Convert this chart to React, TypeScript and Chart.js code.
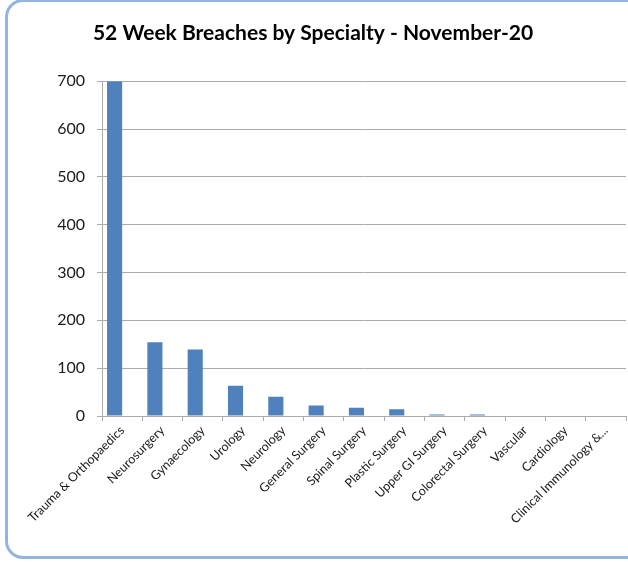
import React, { useEffect, useRef } from "react";
import { Chart, registerables } from "chart.js";

Chart.register(...registerables);

const chartTitle = "52 Week Breaches by Specialty - November-20";

const specialties = [
  "Trauma & Orthopaedics",
  "Neurosurgery",
  "Gynaecology",
  "Urology",
  "Neurology",
  "General Surgery",
  "Spinal Surgery",
  "Plastic Surgery",
  "Upper GI Surgery",
  "Colorectal Surgery",
  "Vascular",
  "Cardiology",
  "Clinical Immunology &...",
];

// Patients waiting over 52 weeks, per specialty
const breaches = [700, 154, 139, 63, 40, 22, 17, 14, 3, 3, 1, 1, 1];

// Empty companion series (keeps the clustered bar layout)
const companion = [null, null, null, null, null, null, null, null, null, null, null, null, null];

const yMin = 0;
const yMax = 700;
const yStep = 100;

const FONT = "Lato, 'Open Sans', 'DejaVu Sans', sans-serif";
const GRID = "#ABABAB";
const TEXT = "#1A1A1A";

export default function App() {
  const canvasRef = useRef<HTMLCanvasElement | null>(null);

  useEffect(() => {
    if (!canvasRef.current) return;
    const chart = new Chart(canvasRef.current, {
      type: "bar",
      data: {
        labels: specialties,
        datasets: [
          {
            label: "52 Week Breaches",
            data: breaches,
            backgroundColor: "#4F81BD",
            borderWidth: 0,
            categoryPercentage: 0.75,
            barPercentage: 1,
          },
          {
            label: "",
            data: companion,
            backgroundColor: "#C0504D",
            borderWidth: 0,
            categoryPercentage: 0.75,
            barPercentage: 1,
          },
        ],
      },
      options: {
        responsive: false,
        animation: false,
        devicePixelRatio: 1,
        layout: { padding: { left: 0, right: 2, top: 0, bottom: 0 } },
        plugins: {
          legend: { display: false },
          tooltip: { enabled: false },
          title: {
            display: true,
            text: chartTitle,
            color: "#000000",
            font: { family: FONT, size: 21, weight: "bold", lineHeight: 1.2 },
            padding: { top: 21, bottom: 35 },
          },
        },
        scales: {
          x: {
            grid: {
              display: true,
              drawOnChartArea: false,
              drawTicks: true,
              tickLength: 5,
              color: GRID,
              offset: true,
            },
            border: { color: GRID, width: 1 },
            ticks: {
              autoSkip: false,
              minRotation: 45,
              maxRotation: 45,
              padding: 2,
              color: TEXT,
              font: { family: FONT, size: 12.5 },
            },
            afterFit: (scale: any) => {
              scale.height = 146;
            },
          },
          y: {
            min: yMin,
            max: yMax,
            grid: { color: GRID, tickLength: 5, lineWidth: 1 },
            border: { color: GRID, width: 1 },
            ticks: {
              stepSize: yStep,
              padding: 12,
              color: TEXT,
              font: { family: FONT, size: 16 },
            },
            afterFit: (scale: any) => {
              scale.width = 102;
            },
          },
        },
      },
    });
    return () => chart.destroy();
  }, []);

  return (
    <div
      style={{
        position: "fixed",
        left: 0,
        top: 0,
        width: 628,
        height: 562,
        background: "#ffffff",
        overflow: "hidden",
      }}
    >
      <canvas
        ref={canvasRef}
        width={628}
        height={562}
        style={{ position: "absolute", left: 0, top: 0, width: 628, height: 562 }}
      />
      <div
        style={{
          position: "absolute",
          left: 5,
          top: -1,
          width: 640,
          height: 560,
          boxSizing: "border-box",
          border: "3px solid #93B4DF",
          borderRadius: 18,
          pointerEvents: "none",
        }}
      />
    </div>
  );
}
